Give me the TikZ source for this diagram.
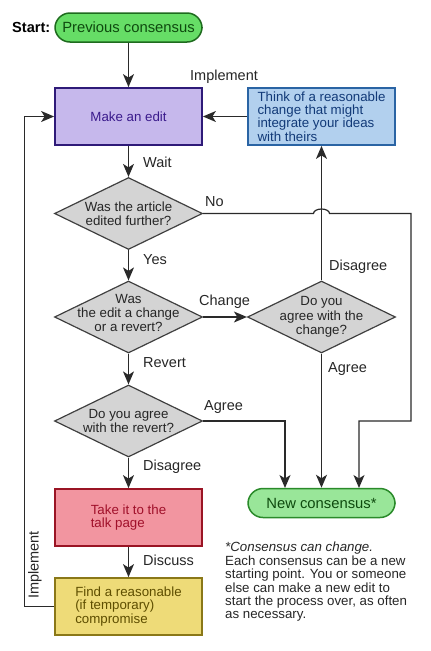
\documentclass[tikz,border=0pt]{standalone}
\usepackage{fontspec}
\setmainfont{Liberation Sans}
\usetikzlibrary{arrows.meta,%
                shapes.geometric}

\definecolor{startfill}{HTML}{66DD66}
\definecolor{startline}{HTML}{1E6B1E}
\definecolor{ncfill}{HTML}{99E699}
\definecolor{ncline}{HTML}{2A8A2A}
\definecolor{ncText}{HTML}{0E4A0E}
\definecolor{editfill}{HTML}{C6B8EC}
\definecolor{editline}{HTML}{2E1A78}
\definecolor{edittext}{HTML}{3A1A8C}
\definecolor{thinkfill}{HTML}{B2D0EE}
\definecolor{thinkline}{HTML}{2A64A4}
\definecolor{thinktext}{HTML}{123A78}
\definecolor{talkfill}{HTML}{F295A0}
\definecolor{talkline}{HTML}{9A1424}
\definecolor{talktext}{HTML}{A0102A}
\definecolor{findfill}{HTML}{EEDB78}
\definecolor{findline}{HTML}{8A7818}
\definecolor{findtext}{HTML}{5E4E00}
\definecolor{askfill}{HTML}{D4D4D4}
\definecolor{askline}{HTML}{404040}
\definecolor{wire}{HTML}{2A2A2A}

\begin{document}
\begin{tikzpicture}[x=1pt,y=-1pt]
  \tikzstyle{Terminal}=[draw, rectangle, rounded corners=15pt, line width=1.5pt,
    minimum width=147pt, minimum height=29pt, inner sep=0pt,
    font=\fontsize{14.8}{16}\selectfont]
  \tikzstyle{Step}=[draw, rectangle, line width=1.8pt, minimum width=147pt,
    minimum height=57pt, inner sep=0pt, align=left,
    font=\fontsize{13.3}{13.4}\selectfont]
  \tikzstyle{Ask}=[draw=askline, fill=askfill, diamond, line width=1.2pt,
    minimum width=148pt, minimum height=72pt, inner sep=0pt]
  \tikzstyle{AskText}=[align=center, inner sep=0pt, text=black!85,
    font=\fontsize{13.3}{14.3}\selectfont]
  \tikzstyle{Wire}=[draw=wire, line width=1.2pt,
    -{Stealth[length=13pt,width=11pt,inset=3.5pt]}]
  \tikzstyle{Label}=[anchor=base west, inner sep=0pt, text=black!85,
    font=\fontsize{14.5}{16}\selectfont]
  \useasboundingbox (0,0) rectangle (431,651);

  % boxes
  \node[Terminal, fill=startfill, draw=startline, text=ncText] (start) at (128.5,27.5) {Previous consensus};
  \node[anchor=base east, inner sep=0pt, font=\bfseries\fontsize{14.6}{16}\selectfont] (startlbl) at (50.5,32.5) {Start:};
  \node[Step, fill=editfill, draw=editline, text=edittext] (edit) at (128.5,116.5) {Make an edit};
  \node[Step, fill=thinkfill, draw=thinkline, text=thinktext] (think) at (321.5,116.5)
    {Think of a reasonable\\change that might\\integrate your ideas\\with theirs};
  \node[Ask, label={[AskText]center:Was the article\\edited further?}] (fresh) at (128.5,213.5) {};
  \node[Ask, label={[AskText, yshift=4pt]center:Was\\the edit a change\\or a revert?}] (kind) at (128.5,317) {};
  \node[Ask, label={[AskText]center:Do you\\agree with the\\change?}] (agreechange) at (321.5,317) {};
  \node[Ask, label={[AskText]center:Do you agree\\with the revert?}] (agreerevert) at (128.5,421) {};
  \node[Step, fill=talkfill, draw=talkline, text=talktext] (talk) at (128.5,517.5) {Take it to the\\talk page};
  \node[Terminal, fill=ncfill, draw=ncline, text=ncText] (newc) at (321.5,503) {New consensus*};
  \node[Step, fill=findfill, draw=findline, text=findtext] (settle) at (128.5,606.5)
    {Find a reasonable\\(if temporary)\\compromise};
  \node[anchor=north west, inner sep=0pt, align=left, text=black!85,
    font=\fontsize{13.3}{13.4}\selectfont] (note) at (225,542)
    {\textit{*Consensus can change.}\\Each consensus can be a new\\starting point. You or someone\\else can make a new edit to\\start the process over, as often\\as necessary.};

  \coordinate (inL) at (285,488);
  \coordinate (inR) at (359,488);

  % connectors
  \draw[Wire] (start) -- (edit);
  \draw[Wire] (think) -- (edit);
  \draw[Wire] (edit) -- (fresh);
  \draw[Wire] (fresh) -- (kind);
  \draw[Wire] (kind) -- (agreechange);
  \draw[Wire] (agreechange) -- (think);
  \draw[Wire] (agreechange) -- (newc);
  \draw[Wire] (kind) -- (agreerevert);
  \draw[Wire] (agreerevert) -- (talk);
  \draw[Wire] (talk) -- (settle);
  \draw[Wire] (settle.west) -- ++(-30,0) |- (edit.west);
  \draw[Wire] (agreerevert.east) -| (inL);
  \draw[Wire] (fresh.east) -- (313.5,213.5)
    arc[start angle=180, end angle=0, x radius=8pt, y radius=4.5pt]
    -- (411,213.5) -- (411,421) -| (inR);

  % labels
  \node[Label] (limpl) at (190,80) {Implement};
  \node[Label] (lwait) at (143,167.5) {Wait};
  \node[Label] (lno) at (205,206) {No};
  \node[Label] (lyes) at (143,264) {Yes};
  \node[Label] (lchange) at (199,305.5) {Change};
  \node[Label] (ldis) at (329,270) {Disagree};
  \node[Label] (lagree) at (328,372) {Agree};
  \node[Label] (lrevert) at (143,367.5) {Revert};
  \node[Label] (lagreeb) at (204,410) {Agree};
  \node[Label] (ldisb) at (143,470) {Disagree};
  \node[Label] (ldiscuss) at (143,565) {Discuss};
  \node[Label, anchor=center, rotate=90] (limplb) at (35,565) {Implement};
\end{tikzpicture}
\end{document}
